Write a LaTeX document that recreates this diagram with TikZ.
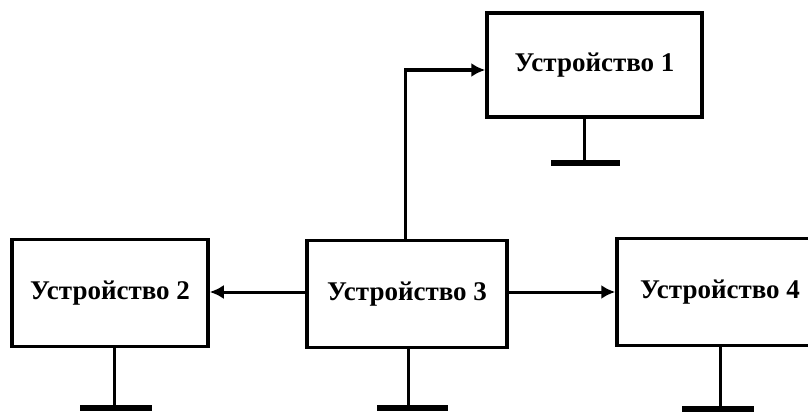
\documentclass[tikz,border=0pt]{standalone}
\usepackage{fontspec}
\setmainfont{Liberation Serif}
\usetikzlibrary{arrows.meta}
\begin{document}
\begin{tikzpicture}[x=1pt,y=-1pt,
  device/.style={draw=black, line width=3.5pt, inner sep=0pt, minimum height=107pt,
    font=\bfseries\fontsize{27}{30}\selectfont},
  conn/.style={draw=black, line width=3pt, -{Latex[length=14pt,width=14pt]}},
  stem/.style={draw=black, line width=3pt},
  gbar/.style={draw=black, line width=5.5pt}]
\clip (0,0) rectangle (808,412);
\node[device, minimum width=215pt, minimum height=104pt] (d1) at (594.5,65) {Устройство 1};
\node[device, minimum width=196pt] (d2) at (110,293) {Устройство 2};
\node[device, minimum width=200pt] (d3) at (407,294) {Устройство 3};
\node[device, minimum width=206pt] (d4) at (720,292) {Устройство 4};
% connectors
\coordinate (k) at (405,70);
\draw[conn] (d3.north -| k) -- (k) -- (d1.west |- k);
\draw[conn] (d3.west |- 0,292) -- (d2.east |- 0,292);
\draw[conn] (d3.east |- 0,292) -- (d4.west |- 0,292);
% grounds
\coordinate (g1) at (584,163);
\coordinate (g2) at (114,408);
\coordinate (g3) at (408,408);
\coordinate (g4) at (720,409);
\draw[stem] (d1.south -| g1) -- (g1);
\draw[stem] (d2.south -| g2) -- (g2);
\draw[stem] (d3.south -| g3) -- (g3);
\draw[stem] (d4.south -| g4) -- (g4);
\draw[gbar] (g1) ++(-33,0) -- ++(69,0);
\draw[gbar] (g2) ++(-34,0) -- ++(72,0);
\draw[gbar] (g3) ++(-31,0) -- ++(71,0);
\draw[gbar] (g4) ++(-38,0) -- ++(72,0);
\end{tikzpicture}
\end{document}
